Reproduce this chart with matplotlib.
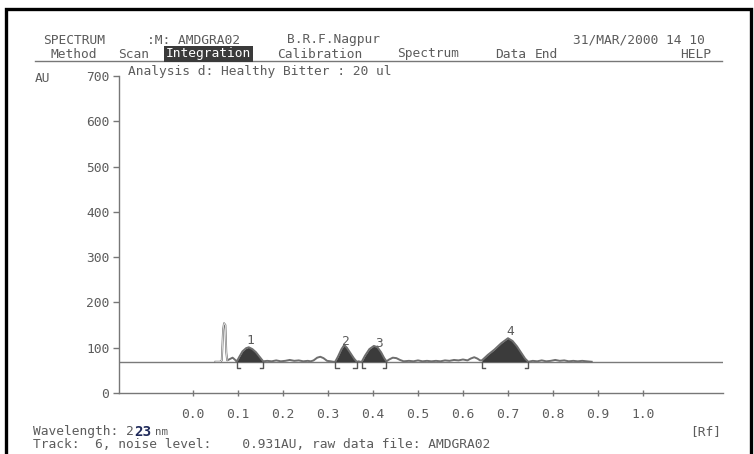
import numpy as np
import matplotlib.pyplot as plt
from matplotlib.patches import Rectangle
from matplotlib.lines import Line2D

# densitogram trace (Rf, AU)
rf = [0.050, 0.060, 0.064, 0.067, 0.069, 0.072, 0.074, 0.076, 0.080, 0.088, 0.095,
      0.097, 0.103, 0.110, 0.118, 0.124, 0.132, 0.140, 0.148, 0.156,
      0.165, 0.175, 0.185, 0.195, 0.205, 0.215, 0.225, 0.235, 0.245, 0.255, 0.262,
      0.268, 0.276, 0.283, 0.290, 0.298, 0.306, 0.312,
      0.316, 0.322, 0.330, 0.336, 0.342, 0.350, 0.358, 0.364,
      0.368, 0.372,
      0.375, 0.382, 0.392, 0.402, 0.410, 0.418, 0.425, 0.430,
      0.436, 0.444, 0.452, 0.460, 0.468,
      0.480, 0.490, 0.500, 0.510, 0.520, 0.530, 0.540, 0.550, 0.560, 0.570,
      0.580, 0.590, 0.600, 0.610, 0.617, 0.625, 0.632, 0.638,
      0.642, 0.655, 0.670, 0.685, 0.700, 0.710, 0.720, 0.730, 0.738, 0.745,
      0.755, 0.765, 0.775, 0.785, 0.795, 0.805, 0.815, 0.825, 0.835, 0.845,
      0.855, 0.865, 0.875, 0.886]
au = [69, 69, 72, 140, 154, 150, 90, 72, 74, 78, 72,
      69, 80, 92, 99, 101, 97, 90, 80, 70,
      71, 70, 72, 70, 71, 73, 71, 72, 70, 71, 70,
      72, 78, 80, 77, 71, 70, 69,
      69, 80, 97, 106, 100, 88, 76, 69,
      70, 69,
      69, 82, 97, 104, 101, 90, 77, 70,
      74, 78, 77, 73, 70,
      71, 70, 72, 70, 71, 70, 71, 70, 72, 71,
      73, 72, 74, 72, 76, 79, 76, 72,
      72, 84, 96, 110, 121, 115, 103, 88, 76, 69,
      71, 70, 72, 70, 71, 73, 71, 72, 70, 71,
      70, 71, 70, 69]

baseline_au = 69
peak_ids = ["1", "2", "3", "4"]
peak_start = [0.097, 0.316, 0.375, 0.642]
peak_end = [0.156, 0.364, 0.430, 0.745]
peak_label_pos = [(0.128, 117), (0.340, 113), (0.413, 110), (0.705, 135)]

y_ticks = [0, 100, 200, 300, 400, 500, 600, 700]
x_ticks = [0.0, 0.1, 0.2, 0.3, 0.4, 0.5, 0.6, 0.7, 0.8, 0.9, 1.0]
x_ticklabels = ["0.0", "0.1", "0.2", "0.3", "0.4", "0.5", "0.6", "0.7", "0.8", "0.9", "1.0"]

menu_items = ["Method", "Scan", "Integration", "Calibration", "Spectrum", "Data", "End", "HELP"]
menu_x = [50, 118, 166, 277, 397, 495, 535, 680]

W, H = 754, 454
TXT = "#5c5c5c"
MONO = "DejaVu Sans Mono"
FS = 9.3


def fx(px):
    return px / W


def fy(py):
    return 1 - py / H


fig = plt.figure(figsize=(7.54, 4.54), dpi=100)

# outer screen frame
fig.add_artist(Rectangle((fx(6), fy(470)), fx(751) - fx(6), fy(9) - fy(470),
                         transform=fig.transFigure, fill=False, edgecolor="black", lw=2.4))

# header lines
fig.text(fx(43), fy(40), "SPECTRUM", family=MONO, fontsize=FS, color=TXT, va="center")
fig.text(fx(147), fy(40), ":M: AMDGRA02", family=MONO, fontsize=FS, color=TXT, va="center")
fig.text(fx(287), fy(40), "B.R.F.Nagpur", family=MONO, fontsize=FS, color=TXT, va="center")
fig.text(fx(573), fy(40), "31/MAR/2000 14 10", family=MONO, fontsize=FS, color=TXT, va="center")

for name, x in zip(menu_items, menu_x):
    if name == "Integration":
        fig.text(fx(x), fy(54), name, family=MONO, fontsize=FS, color="white", va="center",
                 bbox=dict(boxstyle="square,pad=0.12", facecolor="#3a3a3a", edgecolor="none"))
    else:
        fig.text(fx(x), fy(54), name, family=MONO, fontsize=FS, color=TXT, va="center")
fig.add_artist(Line2D([fx(35), fx(722)], [fy(61), fy(61)], transform=fig.transFigure,
                      color="#777777", lw=1.0))

fig.text(fx(128), fy(71), "Analysis d: Healthy Bitter : 20 ul", family=MONO, fontsize=FS,
         color=TXT, va="center")
fig.text(fx(35), fy(78), "AU", family=MONO, fontsize=FS, color=TXT, va="center")

# footer
fig.text(fx(33), fy(432), "Wavelength: 2", family=MONO, fontsize=FS, color=TXT, va="center")
fig.text(fx(134), fy(432), "23", family=MONO, fontsize=FS + 1, color="#1f2a5a",
         fontweight="bold", va="center")
fig.text(fx(155), fy(432), "nm", family=MONO, fontsize=FS - 1.5, color=TXT, va="center")
fig.text(fx(690), fy(432), "[Rf]", family=MONO, fontsize=FS, color=TXT, va="center")
fig.text(fx(33), fy(445), "Track:  6, noise level:    0.931AU, raw data file: AMDGRA02",
         family=MONO, fontsize=FS, color=TXT, va="center")

# plot area
ax = fig.add_axes([fx(119), fy(393), fx(723) - fx(119), fy(76) - fy(393)])
ax.set_xlim(-0.1644, 1.1778)
ax.set_ylim(0, 700)
for s in ["top", "right"]:
    ax.spines[s].set_visible(False)
for s in ["left", "bottom"]:
    ax.spines[s].set_color("#777777")
    ax.spines[s].set_linewidth(1.0)

ax.set_yticks(y_ticks)
ax.set_yticklabels([str(v) for v in y_ticks], family=MONO, fontsize=FS, color=TXT)
ax.set_xticks(x_ticks)
ax.set_xticklabels(x_ticklabels, family=MONO, fontsize=FS, color=TXT)
ax.tick_params(axis="y", direction="out", length=4, width=1, color="#777777", pad=3)
ax.tick_params(axis="x", direction="inout", length=5, width=1, color="#777777", pad=8)

rf_a = np.array(rf)
au_a = np.array(au)

ax.axhline(baseline_au, color="#7a7a7a", lw=1.0, zorder=1)

for s, e in zip(peak_start, peak_end):
    m = (rf_a >= s) & (rf_a <= e)
    ax.fill_between(rf_a[m], baseline_au, au_a[m], color="#3b3b3b", lw=0, zorder=2)

ax.plot(rf_a, au_a, color="#6e6e6e", lw=1.4, zorder=3)
spike = rf_a < 0.08
ax.plot(rf_a[spike], au_a[spike], color="white", lw=0.5, zorder=4)

for s, e in zip(peak_start, peak_end):
    ax.plot([s, s, s + 0.008], [baseline_au, 55, 55], color="#555555", lw=1.0, zorder=3)
    ax.plot([e, e, e - 0.008], [baseline_au, 55, 55], color="#555555", lw=1.0, zorder=3)

for pid, (px, py) in zip(peak_ids, peak_label_pos):
    ax.text(px, py, pid, family=MONO, fontsize=FS, color=TXT, ha="center", va="center")

fig.savefig("out.png", dpi=100)
